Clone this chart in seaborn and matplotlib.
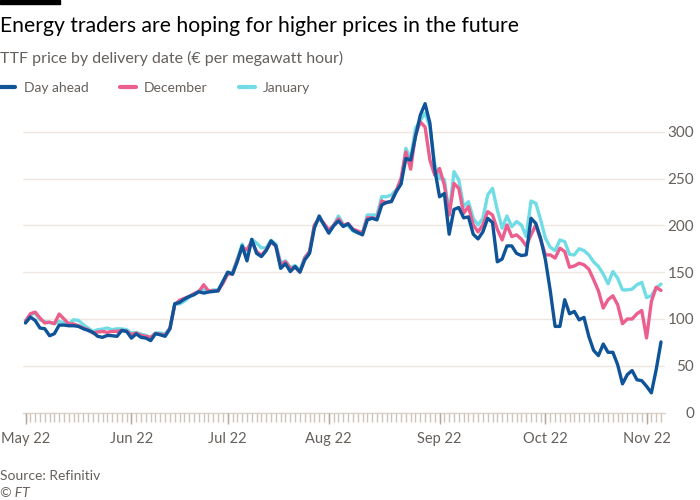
import pandas as pd
import matplotlib.pyplot as plt
import seaborn as sns
from matplotlib.lines import Line2D
from matplotlib.patches import Rectangle

# TTF gas prices (EUR per MWh), one value per trading day, 2 May - 4 Nov 2022
day_ahead = [95.6, 102, 98.4, 90.3, 89.5, 82, 84.2, 93.4, 93.4, 92.7,
             92.7, 92, 89.5, 87.7, 85.6, 81.4, 80.3, 82.4, 82, 81.4,
             87.7, 86.7, 79.5, 84, 80.3, 79.5, 76.8, 84.2, 83, 81.4,
             89.5, 116.2, 117.6, 121.2, 124, 125.8, 129, 127.6, 128.7, 129.3,
             130, 140, 150, 147.8, 161.3, 178, 162, 185, 170, 166.6,
             173, 183.4, 178, 154, 159, 150.6, 156, 150, 163, 170,
             197, 210, 200.4, 191.6, 199.4, 204.7, 198.7, 201.5, 195, 192.2,
             189.8, 205.8, 207.5, 205.8, 221.7, 224.6, 225.3, 236, 244, 271.5,
             269.7, 294.6, 317.7, 330, 309, 260, 230.5, 234, 190.5, 217,
             219, 208, 209, 190.5, 185.5, 193, 207.5, 203, 161, 164,
             178, 178, 170, 167.7, 168.5, 207.5, 202, 186, 163, 130,
             92, 92, 120.5, 105.5, 108, 99, 101.6, 81.4, 66.4, 60.8,
             73.2, 64.3, 64.3, 51, 30.6, 40.5, 44.8, 35, 34, 28,
             21, 45.8, 75.4]

december = [97.3, 105.5, 107.3, 101, 95.6, 96.6, 94.9, 105.2, 99.9, 94.6,
            94.6, 92.7, 90.3, 88.5, 84.9, 86, 86.7, 85.6, 86.7, 86.7,
            87.7, 86.7, 83.2, 84.9, 82.4, 81.4, 80.3, 84.5, 83.5, 82.5,
            90, 115, 120, 122, 124, 127, 129, 136.5, 130, 130,
            130, 138, 148, 148, 163, 176, 174, 183, 172, 168,
            174, 182, 178, 158, 161, 154, 155, 150, 165, 172,
            200, 208, 202, 195, 200, 207, 200, 202, 196, 194,
            192, 208, 208, 207, 226, 224, 226, 237, 250, 278.5,
            260, 296.4, 310.6, 305, 269.7, 253.7, 260.8, 243, 211, 244.8,
            239.5, 212.8, 220, 200.4, 193, 200.4, 214.6, 211, 195.8, 184.4,
            200.4, 188, 189.8, 185.2, 178, 189.8, 200.4, 184.4, 168.4, 168.4,
            165, 175.6, 172, 155.2, 156.6, 159.5, 157.8, 153.2, 142, 130,
            111.6, 120.5, 124.7, 115.1, 94.9, 99.9, 99.9, 105.5, 109, 79.6,
            118.7, 133.9, 130.4]

january = [98.4, 104.5, 106.2, 99.1, 97, 96, 94.9, 97.3, 96, 94.6,
           99.1, 98.4, 93.8, 90.3, 86.7, 88.5, 89.1, 90.3, 88.5, 89.5,
           89.3, 88.5, 84.9, 85.6, 83.8, 82.4, 80, 85, 85, 84,
           90, 116, 116, 119, 123, 127, 130, 131, 130, 131,
           131, 139, 148, 150, 164, 180, 168, 185, 181, 176,
           176, 184, 180, 160, 162, 155, 157, 152, 166, 172,
           200, 207, 201, 193, 200, 210, 201, 200, 194, 192,
           192, 211, 211, 211, 230.6, 230.6, 232.4, 237.7, 244.9, 282.2,
           271.5, 303.5, 312, 320, 305, 265, 250, 249, 212, 257.4,
           248.4, 220, 225.3, 207.5, 200.4, 207.5, 232.4, 239.5, 216.4, 196.9,
           210, 198.5, 204, 200.4, 188, 226, 223.5, 205.8, 186, 176.6,
           173, 184.4, 182.6, 169, 168.4, 175, 173, 168.4, 161, 156,
           148, 137.5, 150.6, 143.5, 131, 131, 131.8, 136.5, 139, 122.8,
           124.7, 133, 137.2]

series_names = ["Day ahead", "December", "January"]
series_colors = ["#0f5499", "#eb5e8d", "#70dce6"]
y_ticks = [0, 50, 100, 150, 200, 250, 300]

# trading days (weekdays, without the two Jubilee bank holidays)
days = pd.bdate_range("2022-05-02", "2022-11-04")
days = days.drop(pd.to_datetime(["2022-06-02", "2022-06-03"]))
n = len(day_ahead)
days = days[:n]

wide = pd.DataFrame({"step": range(n), "Day ahead": day_ahead,
                     "December": december, "January": january})
prices = wide.melt(id_vars="step", var_name="series", value_name="price")

sns.set_theme(style="white")
plt.rcParams["font.family"] = ["Lato", "DejaVu Sans"]

grey = "#66605c"
fig = plt.figure(figsize=(7, 5), dpi=100)
ax = fig.add_axes([23 / 700, 0.175, 642 / 700, 0.6364])

sns.lineplot(data=prices, x="step", y="price", hue="series",
             hue_order=series_names, palette=series_colors,
             linewidth=2.4, legend=False, ax=ax)
# day ahead on top, january at the back
for line, z in zip(ax.lines, [5, 4, 3]):
    line.set_zorder(z)
    line.set_solid_joinstyle("round")

ax.set_xlim(-0.52, n - 1 + 0.83)
ax.set_ylim(0, 340)
ax.set_xlabel("")
ax.set_ylabel("")

# y axis on the right, no tick marks
ax.yaxis.tick_right()
ax.set_yticks(y_ticks)
ax.tick_params(axis="y", length=0, pad=21, labelsize=11, labelcolor=grey)
for lab in ax.get_yticklabels():
    lab.set_horizontalalignment("right")
ax.yaxis.grid(True, color="#ede7e0", linewidth=1)
ax.set_axisbelow(True)

# x axis: labels at month starts, a small comb tick for every trading day
month_starts = [i for i in range(n) if i == 0 or days[i].month != days[i - 1].month]
ax.set_xticks(month_starts, labels=[days[i].strftime("%b %y") for i in month_starts])
ax.tick_params(axis="x", which="major", bottom=True, length=0, pad=14,
               labelsize=10.5, labelcolor=grey)
comb = ax.get_xaxis_transform()
ax.vlines(range(n), -0.029, 0, transform=comb, colors="#cdc4bb",
          linewidth=1, clip_on=False, zorder=6)
ax.vlines(month_starts, -0.036, 0, transform=comb, colors="#b3a99f",
          linewidth=1, clip_on=False, zorder=6)

for side in ["top", "left", "right"]:
    ax.spines[side].set_visible(False)
ax.spines["bottom"].set_color("#ddd5cc")
ax.spines["bottom"].set_linewidth(1)

# header
fig.add_artist(Rectangle((0, 1 - 4 / 500), 60 / 700, 4 / 500,
                         color="black", transform=fig.transFigure))
fig.text(0.0, 1 - 32 / 500, "Energy traders are hoping for higher prices in the future",
         fontsize=15.2, color="#000000", va="baseline", ha="left")
fig.text(0.0, 1 - 63 / 500, "TTF price by delivery date (€ per megawatt hour)",
         fontsize=11.5, color=grey, va="baseline", ha="left")

handles = [Line2D([0], [0], color=c, linewidth=3) for c in series_colors]
fig.legend(handles, series_names, loc="center left",
           bbox_to_anchor=(-0.001, 1 - 88 / 500), ncol=3, frameon=False,
           fontsize=10, labelcolor=grey, handlelength=1.15, handletextpad=0.6,
           columnspacing=2.25, borderpad=0, borderaxespad=0)

# footer
fig.text(0.0, 1 - 480 / 500, "Source: Refinitiv", fontsize=10, color=grey,
         va="baseline", ha="left")
fig.text(0.0, 1 - 497 / 500, "© FT", fontsize=10, color=grey,
         va="baseline", ha="left", style="italic")

fig.savefig("out.png", dpi=100, facecolor="white")
